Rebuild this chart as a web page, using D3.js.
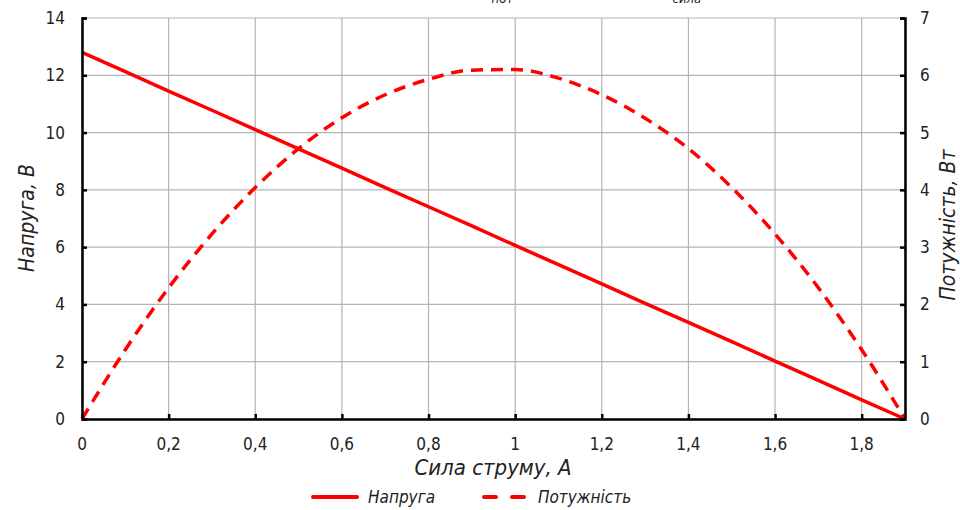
<!DOCTYPE html>
<html>
<head>
<meta charset="utf-8">
<script src="https://d3js.org/d3.v7.min.js"></script>
<style>
body { margin: 0; background: #fff; }
text { font-family: "DejaVu Sans Condensed", "Liberation Sans Narrow", sans-serif; fill: #222; }
</style>
</head>
<body>
<script>
// струм, А
var current = [0, 0.1, 0.2, 0.3, 0.4, 0.5, 0.6, 0.7, 0.8, 0.9, 1.0, 1.1, 1.2, 1.3, 1.4, 1.5, 1.6, 1.7, 1.8, 1.9];
// напруга, В
var voltage = [12.8, 12.13, 11.45, 10.78, 10.1, 9.43, 8.76, 8.08, 7.41, 6.74, 6.06, 5.39, 4.72, 4.04, 3.37, 2.7, 2.02, 1.35, 0.67, 0];
// потужність, Вт
var power = [0, 1.21, 2.29, 3.23, 4.04, 4.72, 5.26, 5.66, 5.93, 6.09, 6.1, 5.95, 5.66, 5.25, 4.72, 4.04, 3.23, 2.29, 1.21, 0];

var xTicks = [0, 0.2, 0.4, 0.6, 0.8, 1, 1.2, 1.4, 1.6, 1.8];
var yLeftTicks = [0, 2, 4, 6, 8, 10, 12, 14];
var yRightTicks = [0, 1, 2, 3, 4, 5, 6, 7];
var seriesNames = ["Напруга", "Потужність"];

var w = 960, h = 510;
var pLeft = 82, pRight = 905, pTop = 18, pBottom = 419;

var svg = d3.select("body").append("svg")
    .attr("width", w)
    .attr("height", h);

var x = d3.scaleLinear().domain([0, 1.9]).range([pLeft, pRight]);
var yL = d3.scaleLinear().domain([0, 14]).range([pBottom, pTop]);
var yR = d3.scaleLinear().domain([0, 7]).range([pBottom, pTop]);
var fmt = function(d) { return String(d).replace(".", ","); };

// title (cut off at the top, as in the original)
var title = svg.append("text")
    .attr("x", 110).attr("y", -4)
    .style("font-size", "19px").style("font-style", "italic");
title.append("tspan").text("Графік залежності напруги і потужності P");
title.append("tspan").attr("dy", 7).style("font-size", "13px").text("пот");
title.append("tspan").attr("dy", -7).text(" від сили струму I");
title.append("tspan").attr("dy", 7).style("font-size", "13px").text("сила");

// grid
svg.append("g").selectAll("line")
    .data(xTicks.concat([1.9]))
    .enter().append("line")
    .attr("x1", function(d) { return x(d); })
    .attr("x2", function(d) { return x(d); })
    .attr("y1", pTop).attr("y2", pBottom)
    .style("stroke", "#b4b4b4").style("stroke-width", 1.2);

svg.append("g").selectAll("line")
    .data(yLeftTicks)
    .enter().append("line")
    .attr("x1", pLeft).attr("x2", pRight)
    .attr("y1", function(d) { return yL(d); })
    .attr("y2", function(d) { return yL(d); })
    .style("stroke", "#b4b4b4").style("stroke-width", 1.2);

// lines
var lineU = d3.line()
    .x(function(d, i) { return x(current[i]); })
    .y(function(d) { return yL(d); });
var lineP = d3.line()
    .curve(d3.curveMonotoneX)
    .x(function(d, i) { return x(current[i]); })
    .y(function(d) { return yR(d); });

svg.append("path")
    .attr("d", lineU(voltage))
    .style("fill", "none").style("stroke", "#ff0000").style("stroke-width", 3.5);

svg.append("path")
    .attr("d", lineP(power))
    .style("fill", "none").style("stroke", "#ff0000").style("stroke-width", 3.5)
    .style("stroke-dasharray", "12,8");

// axes
var axL = d3.axisRight(yL).tickValues(yLeftTicks).tickSize(5).tickSizeOuter(5).tickFormat("");
var axR = d3.axisLeft(yR).tickValues(yRightTicks).tickSize(5).tickSizeOuter(5).tickFormat("");
var axB = d3.axisTop(x).tickValues(xTicks).tickSize(5).tickSizeOuter(0).tickFormat("");

[svg.append("g").attr("transform", "translate(" + pLeft + ",0)").call(axL),
 svg.append("g").attr("transform", "translate(" + pRight + ",0)").call(axR),
 svg.append("g").attr("transform", "translate(0," + pBottom + ")").call(axB)].forEach(function(g) {
    g.select(".domain").style("stroke", "#000").style("stroke-width", 2.5);
    g.selectAll(".tick line").style("stroke", "#000").style("stroke-width", 2.5);
});

// tick labels
svg.append("g").selectAll("text")
    .data(yLeftTicks)
    .enter().append("text")
    .attr("x", 65).attr("y", function(d) { return yL(d) + 6; })
    .attr("text-anchor", "end")
    .style("font-size", "17px")
    .text(fmt);

svg.append("g").selectAll("text")
    .data(yRightTicks)
    .enter().append("text")
    .attr("x", 920).attr("y", function(d) { return yR(d) + 6; })
    .style("font-size", "17px")
    .text(fmt);

svg.append("g").selectAll("text")
    .data(xTicks)
    .enter().append("text")
    .attr("x", function(d) { return x(d); }).attr("y", 450)
    .attr("text-anchor", "middle")
    .style("font-size", "17px")
    .text(fmt);

// axis titles
svg.append("text")
    .attr("x", 493).attr("y", 475)
    .attr("text-anchor", "middle")
    .style("font-size", "22px").style("font-style", "italic")
    .text("Сила струму, А");

svg.append("text")
    .attr("transform", "translate(34,218) rotate(-90)")
    .attr("text-anchor", "middle")
    .style("font-size", "21px").style("font-style", "italic")
    .text("Напруга, В");

svg.append("text")
    .attr("transform", "translate(955,225) rotate(-90)")
    .attr("text-anchor", "middle")
    .style("font-size", "21px").style("font-style", "italic")
    .text("Потужність, Вт");

// legend
var leg = svg.append("g");
leg.append("line")
    .attr("x1", 313).attr("x2", 357).attr("y1", 497).attr("y2", 497)
    .style("stroke", "#ff0000").style("stroke-width", 4).style("stroke-linecap", "round");
leg.append("text")
    .attr("x", 368).attr("y", 503)
    .style("font-size", "17px").style("font-style", "italic")
    .text(seriesNames[0]);
leg.append("line")
    .attr("x1", 484).attr("x2", 528).attr("y1", 497).attr("y2", 497)
    .style("stroke", "#ff0000").style("stroke-width", 4).style("stroke-linecap", "round")
    .style("stroke-dasharray", "12,16");
leg.append("text")
    .attr("x", 538).attr("y", 503)
    .style("font-size", "17px").style("font-style", "italic")
    .text(seriesNames[1]);
</script>
</body>
</html>
